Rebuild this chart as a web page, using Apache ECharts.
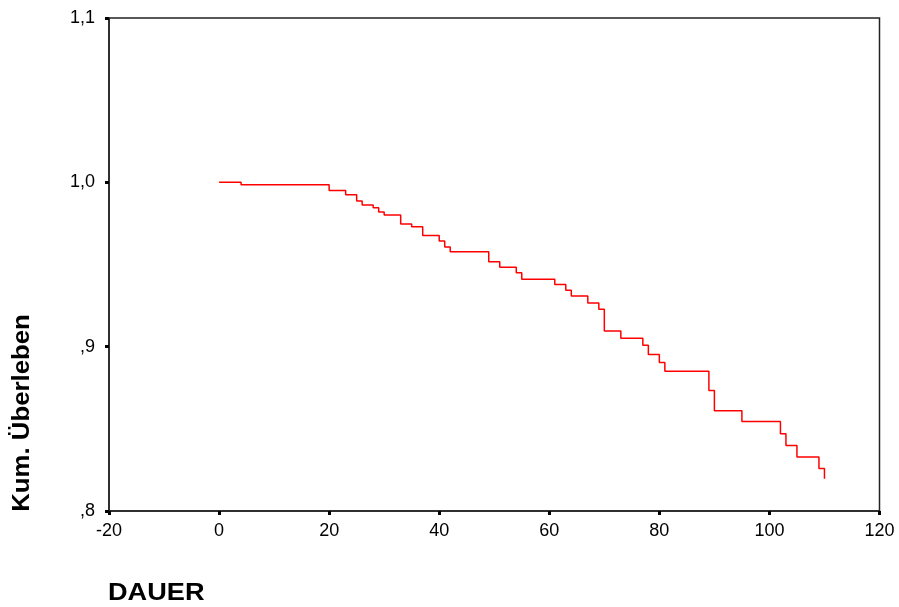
<!DOCTYPE html>
<html>
<head>
<meta charset="utf-8">
<script src="https://cdn.jsdelivr.net/npm/echarts@6/dist/echarts.min.js"></script>
<style>
html,body{margin:0;padding:0;background:#fff;}
#chart{width:899px;height:607px;}
</style>
</head>
<body>
<div id="chart"></div>
<script>
// Survival step data (time of event, cumulative survival after event)
var times = [0, 4, 20, 23, 25, 26, 28, 29, 30, 33, 35, 37, 40, 41, 42, 49, 51, 54, 55, 61, 63, 64, 67, 69, 70, 73, 77, 78, 80, 81, 89, 90, 95, 102, 103, 105, 109, 110];
var survival = [1.0, 0.9985, 0.9951, 0.9925, 0.9886, 0.9862, 0.9846, 0.9819, 0.9801, 0.9746, 0.9730, 0.9677, 0.9643, 0.9606, 0.9578, 0.9517, 0.9483, 0.9450, 0.9411, 0.9379, 0.9343, 0.9308, 0.9265, 0.9228, 0.9095, 0.9051, 0.9008, 0.8953, 0.8903, 0.8850, 0.8733, 0.8610, 0.8544, 0.8470, 0.8399, 0.8328, 0.8259, 0.8197];
var xTicks = [-20, 0, 20, 40, 60, 80, 100, 120];
var yTicks = [0.8, 0.9, 1.0, 1.1];
var xTitle = 'DAUER';
var yTitle = 'Kum. Überleben';

var seriesData = times.map(function (t, i) { return [t, survival[i]]; });

function yFmt(v) {
  var s = (Math.round(v * 10) / 10).toFixed(1).replace('.', ',');
  if (s.charAt(0) === '0') s = s.substring(1);
  return s;
}

var chart = echarts.init(document.getElementById('chart'), null, {renderer: 'canvas'});
var labelFont = {color: '#000', fontSize: 18, fontFamily: 'Arial, "Liberation Sans", sans-serif'};
chart.setOption({
  animation: false,
  backgroundColor: '#fff',
  grid: {left: 109, right: 19.5, top: 18, bottom: 96, containLabel: false, outerBoundsMode: 'none', show: true, borderColor: '#222', borderWidth: 1.5, backgroundColor: 'transparent'},
  xAxis: {
    type: 'value',
    min: xTicks[0], max: xTicks[xTicks.length - 1], interval: 20,
    axisLine: {show: true, onZero: false, lineStyle: {color: '#222', width: 1.5}},
    axisTick: {show: true, inside: false, length: 4, lineStyle: {color: '#000', width: 3}},
    axisLabel: Object.assign({margin: 11}, labelFont),
    splitLine: {show: false}
  },
  yAxis: {
    type: 'value',
    min: yTicks[0], max: yTicks[yTicks.length - 1], interval: 0.1,
    axisLine: {show: true, onZero: false, lineStyle: {color: '#222', width: 1.5}},
    axisTick: {show: true, inside: false, length: 4, lineStyle: {color: '#000', width: 3}},
    axisLabel: Object.assign({margin: 14, formatter: yFmt}, labelFont),
    splitLine: {show: false}
  },
  series: [{
    type: 'line',
    step: 'end',
    data: seriesData,
    showSymbol: false,
    symbol: 'none',
    lineStyle: {color: '#ff0000', width: 1.5},
    clip: true
  }],
  graphic: [
    {
      type: 'text', x: 108, y: 594, scaleX: 1.18,
      style: {text: xTitle, fill: '#000', font: 'bold 23px Arial, "Liberation Sans", sans-serif', textAlign: 'left', textVerticalAlign: 'middle'}
    },
    {
      type: 'text', x: 23, y: 413, rotation: Math.PI / 2, scaleX: 1.12,
      style: {text: yTitle, fill: '#000', font: 'bold 23px Arial, "Liberation Sans", sans-serif', textAlign: 'center', textVerticalAlign: 'middle'}
    }
  ]
});
</script>
</body>
</html>
